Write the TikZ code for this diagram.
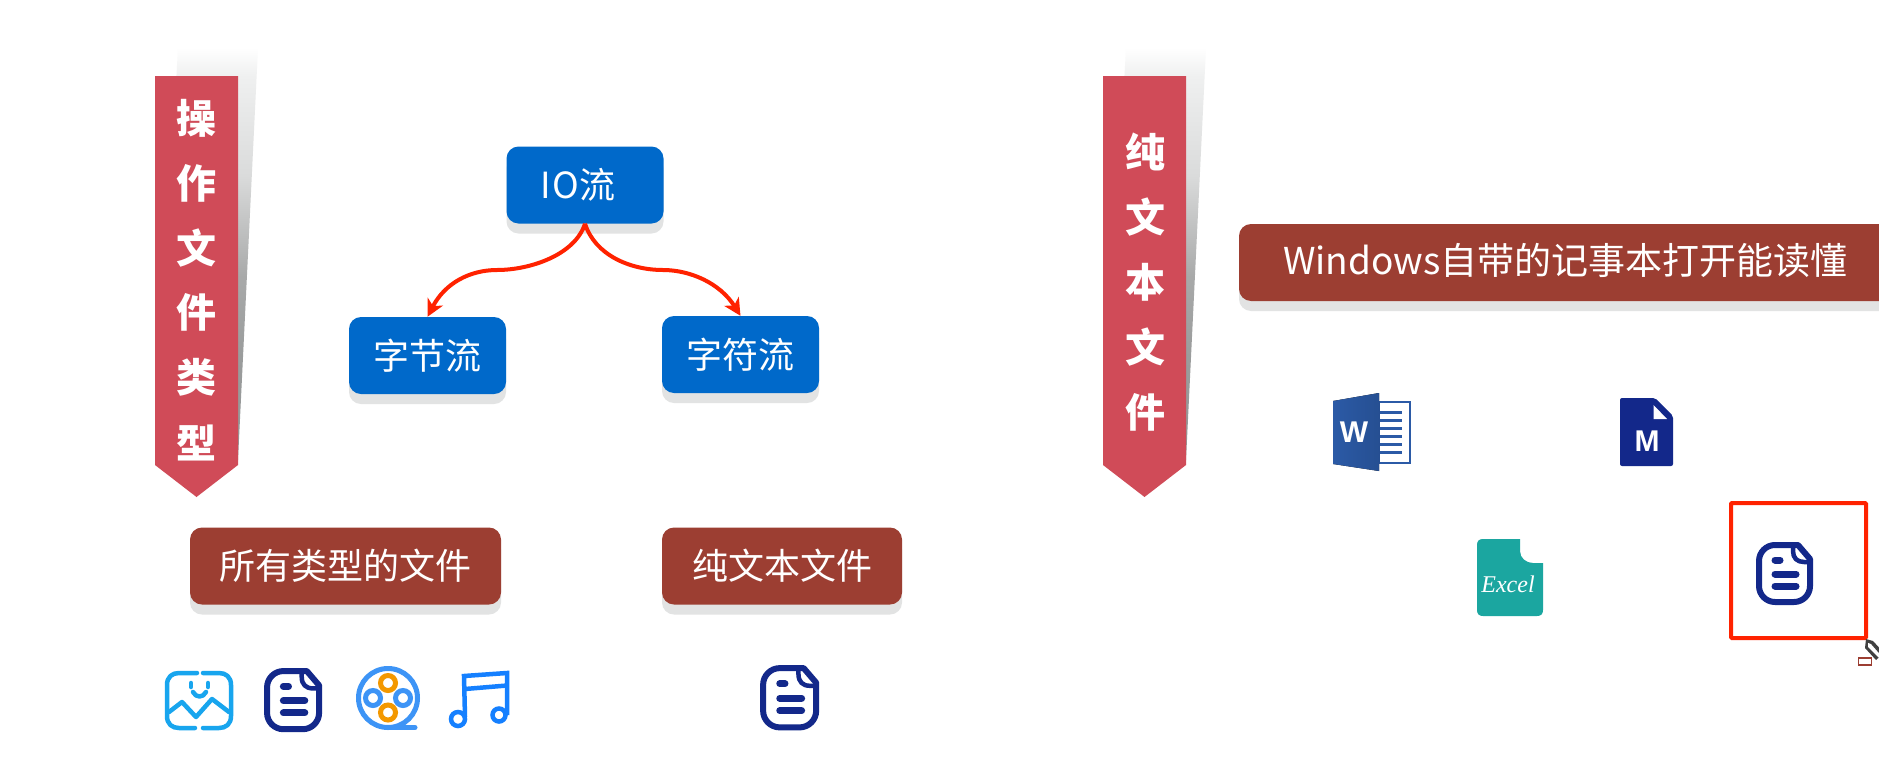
\documentclass[tikz,border=0pt]{standalone}
\usepackage{fontspec}
\setmainfont{Noto Sans CJK SC}
\newfontfamily\latinsans{Liberation Sans}
\newfontfamily\handfont{Liberation Serif}
\usetikzlibrary{arrows.meta,shadows,calc}
\definecolor{ribbonred}{HTML}{D04B58}
\definecolor{brownbox}{HTML}{9C3E32}
\definecolor{bluebox}{HTML}{0069CA}
\definecolor{softshadow}{HTML}{E2E3E3}
\definecolor{docblue}{HTML}{13288A}
\definecolor{wordblue}{HTML}{2B5AA6}
\definecolor{exceltl}{HTML}{1BA6A0}
\definecolor{imgblue}{HTML}{18A5EE}
\definecolor{reelblue}{HTML}{3D94F6}
\definecolor{reelorange}{HTML}{F39800}
\definecolor{notblue}{HTML}{1580FF}
\definecolor{flowred}{HTML}{FF2200}
\definecolor{sa}{HTML}{FFFFFF}
\definecolor{sb}{HTML}{EFF0F0}
\definecolor{sc}{HTML}{DADBDB}
\definecolor{sd}{HTML}{A8A9A9}
\definecolor{se}{HTML}{9A9C9C}
\definecolor{sf}{HTML}{949696}
\pgfdeclareverticalshading{ribbonshade}{100bp}{
  color(0bp)=(sf);
  color(25bp)=(sf);
  color(37.6bp)=(se);
  color(47.3bp)=(sd);
  color(59.5bp)=(sc);
  color(71.6bp)=(sb);
  color(75bp)=(sa);
  color(100bp)=(sa)}
\tikzset{
  x=1pt,y=-1pt,
  boxbase/.style={rectangle,rounded corners=12pt,inner sep=0pt,text=white,
    font=\fontsize{36}{36}\selectfont,
    general shadow={fill=softshadow,shadow xshift=0pt,shadow yshift=-10pt}},
  bluenode/.style={boxbase,fill=bluebox,minimum width=157pt,minimum height=77pt},
  brownnode/.style={boxbase,fill=brownbox,minimum height=77pt},
  ribbonchar/.style={text=white,inner sep=0pt,font=\fontsize{40}{40}\selectfont\bfseries},
  flow/.style={draw=flowred,line width=4pt,-{Stealth[length=17pt,width=17pt,inset=5pt]}},
  docicon/.pic={
    \draw[docblue,line width=6pt,line join=round]
      (37,3) -- (42,3) -- (54,17) -- (54,44) arc[start angle=0,end angle=90,radius=16] -- (19,60)
      arc[start angle=90,end angle=180,radius=16] -- (3,19)
      arc[start angle=180,end angle=270,radius=16] -- cycle;
    \draw[docblue,line width=4.5pt,line cap=round] (37,4) -- (37,9) .. controls (37,16) and (41,20) .. (48,20) -- (53,20);
    \draw[docblue,line width=7pt,line cap=round] (19,18) -- (24,18) (19,32) -- (40,32) (19,44) -- (40,44);
  },
  ribbonpic/.pic={
    \shade[shading=ribbonshade] (23,-28) -- (103,-28) -- (83,384) -- (0,384) -- cycle;
    \fill[ribbonred] (0,0) -- (83,0) -- (83,389) -- (41.5,421) -- (0,389) -- cycle;
  }
}
\begin{document}
\begin{tikzpicture}
\useasboundingbox (0,0) rectangle (1879,763);
\fill[white] (0,0) rectangle (1879,763);

% ribbons
\pic at (155,76) {ribbonpic};
\pic at (1103,76) {ribbonpic};
\foreach \c/\yy/\nm in {操/118/a,作/183/b,文/248/c,件/312/d,类/377/e,型/443/f}
  \node[ribbonchar] (rl\nm) at (196,\yy) {\c};
\foreach \c/\yy/\nm in {纯/152/a,文/217/b,本/282/c,文/347/d,件/412/e}
  \node[ribbonchar] (rr\nm) at (1145,\yy) {\c};

% blue tree
\node[bluenode] (io) at (585,185) {I\kern2ptO流\kern14pt};
\node[bluenode] (byte) at (427.5,355.5) {字节流};
\node[bluenode] (char) at (740.5,354.5) {字符流};
\coordinate (midl) at (497,270);
\coordinate (midr) at (663,270);
\draw[flow] (io.south) .. controls (575,255) and (530,270) .. (midl)
  .. controls (470,270) and (445,283) .. (byte.north);
\draw[flow] (io.south) .. controls (595,255) and (630,270) .. (midr)
  .. controls (690,270) and (720,283) .. (char.north);

% brown boxes
\node[brownnode,minimum width=311pt] (alltypes) at (345.5,566) {所有类型的文件};
\node[brownnode,minimum width=240pt] (plain) at (782,566) {纯文本文件};
\fill[softshadow,rounded corners=12pt] (1239,234) rectangle (1900,311);
\fill[brownbox,rounded corners=12pt] (1239,224) rectangle (1900,301);
\node[text=white,inner sep=0pt,font=\fontsize{37}{37}\selectfont,anchor=west] (winlabel) at (1283,260) {Windows自带的记事本打开能读懂};

% image icon
\begin{scope}[imgblue,line width=4.5pt,line cap=round,line join=round]
  \draw (197,673) -- (179,673) .. controls (172,673) and (167,677) .. (167,685) -- (167,716) .. controls (167,724) and (172,728) .. (179,728) -- (195,728);
  \draw (203,673) -- (219,673) .. controls (226,673) and (231,677) .. (231,685) -- (231,716) .. controls (231,724) and (226,728) .. (219,728) -- (203,728);
  \draw (169,712) -- (182,702) -- (196,717) -- (212,699) -- (229,712);
  \draw (191,683) -- (191,687) (208,683) -- (208,687);
  \draw (193,692) .. controls (196,698) and (203,698) .. (206,692);
\end{scope}

% doc icons
\pic[scale=1.02] at (264,668) {docicon};
\pic[scale=1.04] at (760,665) {docicon};
\pic at (1756,542) {docicon};

% reel icon
\begin{scope}[line width=5pt]
  \draw[reelblue] (388,698) circle[radius=29.5];
  \draw[reelblue,line cap=round] (388,727.5) -- (415,727.5);
  \draw[reelorange] (388,683) circle[radius=7.5] (388,712.5) circle[radius=7.5];
  \draw[reelblue] (373,698) circle[radius=7.5] (403,698) circle[radius=7.5];
\end{scope}

% music icon
\begin{scope}[notblue,line width=4.5pt,line join=miter]
  \draw (465,717) -- (464,676) -- (507,673) -- (507,715);
  \draw (465,689) -- (507,685.5);
  \draw (458,719) circle[radius=7] (499,715) circle[radius=6.5];
\end{scope}

% word icon
\draw[wordblue,line width=2pt,fill=white] (1379,401.5) rectangle (1409.5,463);
\foreach \yy in {412,420,428,436,444,452}
  \draw[wordblue,line width=3pt] (1379,\yy) -- (1402,\yy);
\fill[left color=wordblue,right color=wordblue!88!black] (1333,401) -- (1379,393) -- (1379,471) -- (1333,464) -- cycle;
\node[text=white,inner sep=0pt,font=\latinsans\bfseries\fontsize{30}{30}\selectfont] (wordw) at (1354,432) {W};

% M icon
\fill[docblue,rounded corners=2pt] (1620,398) -- (1655,398) -- (1673,416) -- (1673,466) -- (1620,466) -- cycle;
\fill[white] (1653.5,405) -- (1653.5,419) -- (1667,419) -- cycle;
\node[text=white,inner sep=0pt,font=\latinsans\bfseries\fontsize{30}{30}\selectfont] (mdm) at (1647,441) {M};

% Excel icon
\fill[exceltl] (1483,539) -- (1520,539) -- (1520,551)
  .. controls (1520,558) and (1526,563) .. (1533,563) -- (1543,563) -- (1543,610)
  .. controls (1543,614) and (1541,616) .. (1537,616) -- (1483,616)
  .. controls (1479,616) and (1477,614) .. (1477,610) -- (1477,545)
  .. controls (1477,541) and (1479,539) .. (1483,539) -- cycle;
\node[text=white,inner sep=0pt,font=\handfont\itshape\fontsize{24}{24}\selectfont] (xl) at (1508,584) {Excel};

% annotation
\node[draw=flowred,line width=4pt,rounded corners=1pt,minimum width=135pt,minimum height=135pt,inner sep=0pt] (mark) at (1798.5,570.5) {};
\coordinate (pentip) at (1866,639);
\fill[black!75] (pentip) -- (1873,641) -- (1884,653) -- (1876,660) -- (1865,648) -- cycle;
\fill[white] (1868,643) -- (1871.5,644) -- (1884,657) -- (1881,660) -- (1868,647) -- cycle;
\draw[black!75,line width=1pt] (1870,642) -- (1884,658);
\node[draw=brownbox,fill=white,line width=1.5pt,minimum width=13pt,minimum height=7pt,inner sep=0pt] (tinybox) at (1865,661.5) {};
\end{tikzpicture}
\end{document}
